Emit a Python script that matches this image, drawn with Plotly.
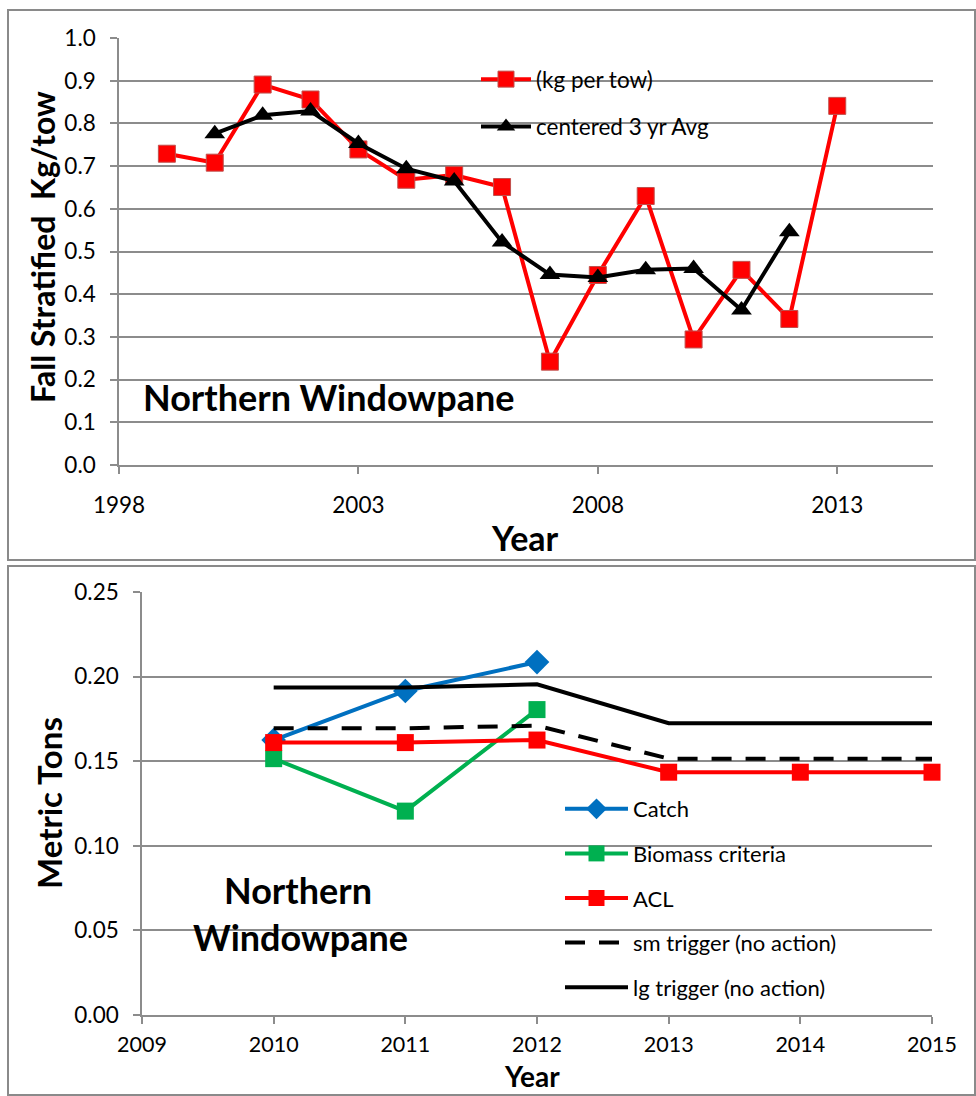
import plotly.graph_objects as go

# ---------------- data ----------------
years_top = [1999, 2000, 2001, 2002, 2003, 2004, 2005, 2006, 2007, 2008, 2009, 2010, 2011, 2012, 2013]
kg_per_tow = [0.729, 0.708, 0.891, 0.856, 0.739, 0.668, 0.679, 0.651, 0.242, 0.445, 0.630, 0.294, 0.457, 0.342, 0.841]
avg_years = [2000, 2001, 2002, 2003, 2004, 2005, 2006, 2007, 2008, 2009, 2010, 2011, 2012]
avg_3yr = [0.776, 0.819, 0.829, 0.753, 0.694, 0.665, 0.522, 0.446, 0.439, 0.457, 0.460, 0.363, 0.546]

top_xticks = [1998, 2003, 2008, 2013]

catch_years = [2010, 2011, 2012]
catch = [0.1625, 0.1915, 0.2086]
biomass_years = [2010, 2011, 2012]
biomass = [0.1515, 0.1205, 0.1805]
acl_years = [2010, 2011, 2012, 2013, 2014, 2015]
acl = [0.161, 0.161, 0.1625, 0.1435, 0.1435, 0.1435]
trig_years = [2010, 2011, 2012, 2013, 2014, 2015]
sm_trigger = [0.1695, 0.1695, 0.171, 0.1515, 0.1515, 0.1515]
lg_trigger = [0.1935, 0.1935, 0.1955, 0.1725, 0.1725, 0.1725]

W, H = 976, 1096
FONT = "Lato"
GRID = "#8c8c8c"


def px(x):
    return x / W


def py(y):
    return 1 - y / H


fig = go.Figure()

# ---------------- top panel ----------------
fig.add_trace(go.Scatter(
    x=years_top, y=kg_per_tow, name="(kg per tow)", mode="lines+markers",
    line=dict(color="#ff0000", width=4),
    marker=dict(symbol="square", size=17, color="#ff0000", line=dict(color="#c0504d", width=1)),
    xaxis="x", yaxis="y", legend="legend", legendgroup="a", cliponaxis=False))
fig.add_trace(go.Scatter(
    x=avg_years, y=avg_3yr, name="centered 3 yr Avg", mode="lines+markers",
    line=dict(color="#000000", width=4),
    marker=dict(symbol="triangle-up", size=18, color="#000000"),
    xaxis="x", yaxis="y", legend="legend", legendgroup="b", cliponaxis=False))

# ---------------- bottom panel ----------------
fig.add_trace(go.Scatter(
    x=catch_years, y=catch, name="Catch", mode="lines+markers",
    line=dict(color="#0070c0", width=4),
    marker=dict(symbol="diamond", size=19, color="#0070c0"),
    xaxis="x2", yaxis="y2", legend="legend2", legendgroup="c", cliponaxis=False))
fig.add_trace(go.Scatter(
    x=biomass_years, y=biomass, name="Biomass criteria", mode="lines+markers",
    line=dict(color="#00b050", width=4),
    marker=dict(symbol="square", size=17, color="#00b050"),
    xaxis="x2", yaxis="y2", legend="legend2", legendgroup="d", cliponaxis=False))
fig.add_trace(go.Scatter(
    x=acl_years, y=acl, name="ACL", mode="lines+markers",
    line=dict(color="#ff0000", width=4),
    marker=dict(symbol="square", size=17, color="#ff0000"),
    xaxis="x2", yaxis="y2", legend="legend2", legendgroup="e", cliponaxis=False))
fig.add_trace(go.Scatter(
    x=trig_years, y=sm_trigger, name="sm trigger (no action)", mode="lines",
    line=dict(color="#000000", width=4, dash="20px,14px"),
    xaxis="x2", yaxis="y2", legend="legend2", legendgroup="f", cliponaxis=False))
fig.add_trace(go.Scatter(
    x=trig_years, y=lg_trigger, name="lg trigger (no action)", mode="lines",
    line=dict(color="#000000", width=4),
    xaxis="x2", yaxis="y2", legend="legend2", legendgroup="g", cliponaxis=False))

axis_common = dict(
    showline=True, linecolor=GRID, linewidth=1.5,
    ticks="outside", tickcolor=GRID, tickwidth=1.5, ticklen=7,
    tickfont=dict(family=FONT, size=22.5, color="#000000"),
    zeroline=False, fixedrange=True, automargin=False,
)
bottom_x_axis = dict(axis_common, tickfont=dict(family=FONT, size=21.5, color="#000000"))

fig.update_layout(
    width=W, height=H,
    margin=dict(l=0, r=0, t=0, b=0, autoexpand=False),
    paper_bgcolor="white", plot_bgcolor="white",
    font=dict(family=FONT, color="#000000"),
    xaxis=dict(domain=[px(119), px(933)], range=[1998, 2015], tickvals=top_xticks,
               showgrid=False, anchor="y", ticklabelstandoff=12, **axis_common),
    yaxis=dict(domain=[py(465), py(38)], range=[0, 1.0], dtick=0.1, tickformat=".1f",
               showgrid=True, gridcolor=GRID, gridwidth=1.5, anchor="x",
               ticklabelstandoff=10, **axis_common),
    xaxis2=dict(domain=[px(142), px(932)], range=[2009, 2015], dtick=1,
                showgrid=False, anchor="y2", ticklabelstandoff=2, **bottom_x_axis),
    yaxis2=dict(domain=[py(1015), py(592)], range=[0, 0.25], dtick=0.05, tickformat=".2f",
                showgrid=True, gridcolor=GRID, gridwidth=1.5, anchor="x2",
                ticklabelstandoff=10, **axis_common),
    legend=dict(x=px(476), y=py(58), xanchor="left", yanchor="top",
                bgcolor="rgba(0,0,0,0)", font=dict(family=FONT, size=22.5),
                itemwidth=50, tracegroupgap=15, traceorder="grouped"),
    legend2=dict(x=px(560), y=py(788), xanchor="left", yanchor="top",
                 bgcolor="rgba(0,0,0,0)", font=dict(family=FONT, size=22),
                 itemwidth=63, tracegroupgap=13, traceorder="grouped"),
    showlegend=True,
)

# white boxes (legend / text box areas) hiding gridlines
shapes = [
    dict(type="rect", xref="paper", yref="paper", x0=px(405), x1=px(791), y0=py(160), y1=py(48),
         fillcolor="white", line=dict(width=0), layer="between"),
    dict(type="rect", xref="paper", yref="paper", x0=px(464), x1=px(934), y0=py(1006), y1=py(782),
         fillcolor="white", line=dict(width=0), layer="between"),
    dict(type="rect", xref="paper", yref="paper", x0=px(172), x1=px(418), y0=py(965), y1=py(860),
         fillcolor="white", line=dict(width=0), layer="between"),
    # panel borders
    dict(type="rect", xref="paper", yref="paper", x0=px(8), x1=px(975), y0=py(560), y1=py(10),
         line=dict(color="#8a8a8a", width=2), layer="above"),
    dict(type="rect", xref="paper", yref="paper", x0=px(8), x1=px(975), y0=py(1095), y1=py(566),
         line=dict(color="#8a8a8a", width=2), layer="above"),
]
fig.update_layout(shapes=shapes)

ann = [
    dict(text="<b>Fall Stratified  Kg/tow</b>", x=px(42), y=py(247), textangle=-90,
         font=dict(family=FONT, size=32)),
    dict(text="<b>Year</b>", x=px(525), y=py(537), font=dict(family=FONT, size=34)),
    dict(text="<b>Northern Windowpane</b>", x=px(329), y=py(397), font=dict(family=FONT, size=36)),
    dict(text="<b>Metric Tons</b>", x=px(49), y=py(803), textangle=-90,
         font=dict(family=FONT, size=33)),
    dict(text="<b>Year</b>", x=px(532), y=py(1095), yanchor="bottom", font=dict(family=FONT, size=28)),
    dict(text="<b>Northern</b>", x=px(298), y=py(890), font=dict(family=FONT, size=36)),
    dict(text="<b>Windowpane</b>", x=px(300), y=py(937), font=dict(family=FONT, size=36)),
]
for a in ann:
    a.setdefault("yanchor", "middle")
    a.update(xref="paper", yref="paper", showarrow=False, xanchor="center")
fig.update_layout(annotations=ann)

fig.write_html("out.html")
